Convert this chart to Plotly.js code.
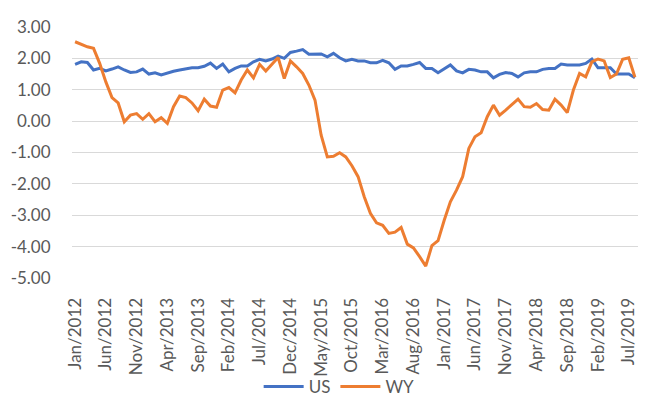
<!DOCTYPE html>
<html>
<head>
<meta charset="utf-8">
<script src="https://cdn.plot.ly/plotly-3.0.1.min.js"></script>
<style>
  html, body { margin: 0; padding: 0; background: #ffffff; }
  #chart { width: 648px; height: 404px; }
</style>
</head>
<body>
<div id="chart"></div>
<script>
// Month labels Jan/2012 .. Aug/2019 (92 months)
const monthNames = ["Jan","Feb","Mar","Apr","May","Jun","Jul","Aug","Sep","Oct","Nov","Dec"];
const startYear = 2012;
const monthCount = 92;
const categories = [];
for (let i = 0; i < monthCount; i++) {
  categories.push(monthNames[i % 12] + "/" + (startYear + Math.floor(i / 12)));
}

// Series values
const usValues = [
  1.81, 1.89, 1.87, 1.63, 1.68, 1.60, 1.66, 1.73, 1.63, 1.55,
  1.57, 1.66, 1.50, 1.54, 1.47, 1.54, 1.59, 1.63, 1.67, 1.70,
  1.70, 1.75, 1.85, 1.68, 1.82, 1.57, 1.68, 1.76, 1.76, 1.89,
  1.97, 1.92, 1.98, 2.07, 2.00, 2.19, 2.23, 2.28, 2.13, 2.14,
  2.14, 2.05, 2.16, 2.02, 1.92, 1.97, 1.92, 1.92, 1.86, 1.86,
  1.94, 1.86, 1.65, 1.76, 1.76, 1.81, 1.87, 1.68, 1.68, 1.54,
  1.66, 1.79, 1.60, 1.54, 1.65, 1.63, 1.57, 1.57, 1.38, 1.49,
  1.55, 1.52, 1.41, 1.54, 1.57, 1.57, 1.65, 1.68, 1.68, 1.82,
  1.79, 1.79, 1.79, 1.84, 1.98, 1.70, 1.70, 1.70, 1.50, 1.49,
  1.50, 1.38
];
const wyValues = [
  2.53, 2.45, 2.37, 2.32, 1.84, 1.25, 0.75, 0.58, -0.02, 0.19,
  0.24, 0.06, 0.24, -0.02, 0.11, -0.07, 0.46, 0.80, 0.75, 0.58,
  0.33, 0.70, 0.48, 0.44, 0.99, 1.07, 0.90, 1.31, 1.63, 1.38,
  1.81, 1.60, 1.82, 2.03, 1.36, 1.92, 1.73, 1.52, 1.15, 0.67,
  -0.45, -1.14, -1.12, -1.01, -1.14, -1.42, -1.77, -2.41, -2.94, -3.24,
  -3.32, -3.58, -3.54, -3.39, -3.92, -4.04, -4.32, -4.62, -3.97, -3.81,
  -3.16, -2.57, -2.20, -1.77, -0.87, -0.50, -0.37, 0.14, 0.51, 0.19,
  0.35, 0.51, 0.70, 0.46, 0.44, 0.56, 0.37, 0.35, 0.70, 0.51,
  0.27, 0.99, 1.52, 1.41, 1.89, 1.98, 1.92, 1.39, 1.50, 1.97,
  2.02, 1.40
];

// Tick labels
const xTickLabels = ["Jan/2012","Jun/2012","Nov/2012","Apr/2013","Sep/2013","Feb/2014",
  "Jul/2014","Dec/2014","May/2015","Oct/2015","Mar/2016","Aug/2016","Jan/2017",
  "Jun/2017","Nov/2017","Apr/2018","Sep/2018","Feb/2019","Jul/2019"];
const yTickValues = [3, 2, 1, 0, -1, -2, -3, -4, -5];
const yTickLabels = ["3.00","2.00","1.00","0.00","-1.00","-2.00","-3.00","-4.00","-5.00"];

const textColor = "#595959";
const fontFamily = "Lato, 'Open Sans', sans-serif";

const traces = [
  { type: "scatter", mode: "lines", name: "US", x: categories, y: usValues,
    line: { color: "#4472C4", width: 3 } },
  { type: "scatter", mode: "lines", name: "WY", x: categories, y: wyValues,
    line: { color: "#ED7D31", width: 3 } }
];

const layout = {
  width: 648, height: 404,
  margin: { l: 72, r: 10, t: 27, b: 126, pad: 0 },
  paper_bgcolor: "#ffffff", plot_bgcolor: "#ffffff",
  font: { family: fontFamily, size: 17, color: textColor },
  showlegend: true,
  legend: { orientation: "h", xref: "paper", x: 0.472, xanchor: "center",
            yref: "container", y: 0.042, yanchor: "middle",
            font: { family: fontFamily, size: 17, color: textColor },
            bgcolor: "rgba(0,0,0,0)", itemwidth: 40, traceorder: "normal" },
  xaxis: {
    type: "category", range: [-0.5, monthCount - 0.5],
    tickmode: "array", tickvals: xTickLabels, ticktext: xTickLabels,
    tickangle: -90, ticks: "outside", ticklen: 12, tickcolor: "rgba(0,0,0,0)",
    showgrid: false, zeroline: false, showline: false, automargin: false,
    tickfont: { family: fontFamily, size: 17, color: textColor }
  },
  yaxis: {
    range: [-5, 3], tickmode: "array", tickvals: yTickValues, ticktext: yTickLabels,
    showgrid: true, gridcolor: "#D9D9D9", gridwidth: 1,
    zeroline: false, showline: false, automargin: false,
    ticks: "outside", ticklen: 17, tickcolor: "rgba(0,0,0,0)",
    tickfont: { family: fontFamily, size: 17, color: textColor }
  }
};

Plotly.newPlot("chart", traces, layout, { displayModeBar: false, staticPlot: true });
</script>
</body>
</html>
